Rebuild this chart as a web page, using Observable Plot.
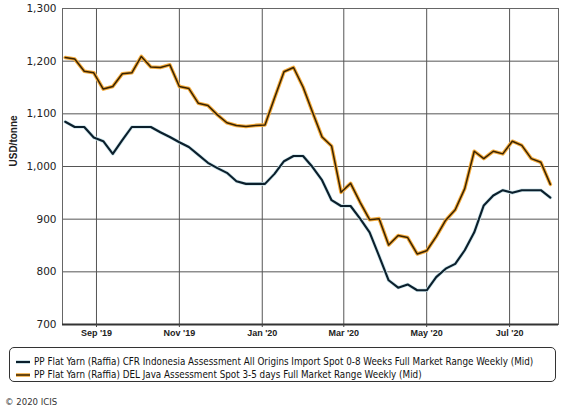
<!DOCTYPE html>
<html>
<head>
<meta charset="utf-8">
<script src="https://cdn.jsdelivr.net/npm/d3@7"></script>
<script src="https://cdn.jsdelivr.net/npm/@observablehq/plot@0.6"></script>
<style>
  html, body { margin: 0; padding: 0; background: #fff; }
  #wrap { position: relative; width: 576px; height: 412px; background: #fff; overflow: hidden; }
  #legend { position: absolute; left: 9px; top: 347px; width: 547px; height: 35px; border: 1px solid #333; border-radius: 5px; box-sizing: border-box; font-family: "DejaVu Sans Condensed", "DejaVu Sans", sans-serif; color: #111; }
  .item { position: absolute; left: 0; height: 13px; white-space: nowrap; }
  .item svg { position: absolute; left: 5px; top: 2px; }
  .item span { position: absolute; left: 24px; top: 0; line-height: 13px; }
  #copy { position: absolute; left: 5px; top: 396px; font-family: "DejaVu Sans Condensed", "DejaVu Sans", sans-serif; font-size: 9.5px; color: #333; }
</style>
</head>
<body>
<div id="wrap">
  <div id="chart"></div>
  <div id="legend"></div>
  <div id="copy">© 2020 ICIS</div>
</div>
<script>
// Weekly assessment dates
const dates = [
  "2019-08-09","2019-08-16","2019-08-23","2019-08-30","2019-09-06","2019-09-13","2019-09-20","2019-09-27",
  "2019-10-04","2019-10-11","2019-10-18","2019-10-25","2019-11-01","2019-11-08","2019-11-15","2019-11-22",
  "2019-11-29","2019-12-06","2019-12-13","2019-12-20","2019-12-27","2020-01-03","2020-01-10","2020-01-17",
  "2020-01-24","2020-01-31","2020-02-07","2020-02-14","2020-02-21","2020-02-28","2020-03-06","2020-03-13",
  "2020-03-20","2020-03-27","2020-04-03","2020-04-10","2020-04-17","2020-04-24","2020-05-01","2020-05-08",
  "2020-05-15","2020-05-22","2020-05-29","2020-06-05","2020-06-12","2020-06-19","2020-06-26","2020-07-03",
  "2020-07-10","2020-07-17","2020-07-24","2020-07-31"
];
// CFR Indonesia (dark line), USD/tonne
const cfrIndonesia = [
  1085,1075,1075,1055,1048,1024,1050,1075,1075,1075,1065,1056,1046,1037,1022,1007,
  997,988,972,967,967,967,986,1010,1020,1020,999,974,936,925,925,901,
  875,830,784,770,776,765,765,790,806,815,841,875,926,945,955,950,
  955,955,955,941
];
// DEL Java (orange line), USD/tonne
const delJava = [
  1207,1204,1181,1178,1147,1152,1176,1178,1209,1189,1188,1193,1152,1148,1120,1116,
  1098,1083,1078,1076,1078,1079,1130,1180,1188,1151,1103,1056,1039,951,968,932,
  899,901,851,869,865,834,840,867,898,918,958,1029,1015,1029,1024,1048,
  1040,1015,1008,966
];
const seriesNames = [
  "PP Flat Yarn (Raffia) CFR Indonesia Assessment All Origins Import Spot 0-8 Weeks Full Market Range Weekly (Mid)",
  "PP Flat Yarn (Raffia) DEL Java Assessment Spot 3-5 days Full Market Range Weekly (Mid)"
];
const yTicks = [700, 800, 900, 1000, 1100, 1200, 1300];
const xTicks = ["2019-09-01","2019-11-01","2020-01-01","2020-03-01","2020-05-01","2020-07-01"];
const xDomain = ["2019-08-07","2020-08-06"];
const yLabel = "USD/tonne";

const rows = dates.map((d, i) => ({date: new Date(d), cfr: cfrIndonesia[i], java: delJava[i]}));
const xTickDates = xTicks.map(d => new Date(d));
const fmtX = d3.utcFormat("%b '%y");

const chart = Plot.plot({
  width: 576,
  height: 342,
  marginLeft: 62,
  marginRight: 18,
  marginTop: 8,
  marginBottom: 18,
  style: {fontFamily: "'DejaVu Sans', sans-serif", fontSize: "10px", color: "#222", background: "transparent", overflow: "visible"},
  x: {type: "utc", domain: xDomain.map(d => new Date(d))},
  y: {domain: [700, 1300]},
  marks: [
    Plot.gridX(xTickDates, {stroke: "#555", strokeOpacity: 1}),
    Plot.gridY(yTicks, {stroke: "#555", strokeOpacity: 1}),
    Plot.frame({stroke: "#666"}),
    Plot.ruleY([700], {stroke: "#333", strokeWidth: 2}),
    Plot.axisX(xTickDates, {tickSize: 3, tickPadding: 2, tickFormat: fmtX, label: null,
      fontFamily: "'Liberation Sans', Arial, sans-serif", fontWeight: "bold", fontSize: 9, stroke: "#444", color: "#222"}),
    Plot.axisY(yTicks, {tickSize: 0, tickPadding: 6, tickFormat: d3.format(","), label: null, fontSize: 10.5, color: "#222"}),
    Plot.text([yLabel], {frameAnchor: "left", dx: -49, rotate: -90, text: d => d,
      fontFamily: "'Liberation Sans', Arial, sans-serif", fontWeight: "bold", fontSize: 10, fill: "#222"}),
    Plot.line(rows, {x: "date", y: "cfr", stroke: "#cfe6ec", strokeWidth: 3.6}),
    Plot.line(rows, {x: "date", y: "cfr", stroke: "#0b1f2c", strokeWidth: 2.1}),
    Plot.line(rows, {x: "date", y: "java", stroke: "#f3ab3c", strokeWidth: 3.6}),
    Plot.line(rows, {x: "date", y: "java", stroke: "#3a2300", strokeWidth: 1.5})
  ]
});
document.getElementById("chart").appendChild(chart);

// Legend
const ctx = document.createElement("canvas").getContext("2d");
ctx.font = "10px 'DejaVu Sans Condensed', 'DejaVu Sans'";
const w = ctx.measureText(seriesNames[0]).width;
const fs = Math.min(11, 10 * 500 / w);
const legend = document.getElementById("legend");
legend.style.fontSize = fs + "px";
const swatches = [
  [{c: "#cfe6ec", w: 3.6}, {c: "#0b1f2c", w: 2.1}],
  [{c: "#f3ab3c", w: 3.6}, {c: "#3a2300", w: 1.5}]
];
seriesNames.forEach((name, i) => {
  const div = document.createElement("div");
  div.className = "item";
  div.style.top = (7 + i * 13) + "px";
  const lines = swatches[i].map(s => `<line x1="1" x2="15" y1="5" y2="5" stroke="${s.c}" stroke-width="${s.w}"/>`).join("");
  div.innerHTML = `<svg width="16" height="10">${lines}</svg><span></span>`;
  div.querySelector("span").textContent = name;
  legend.appendChild(div);
});
</script>
</body>
</html>
